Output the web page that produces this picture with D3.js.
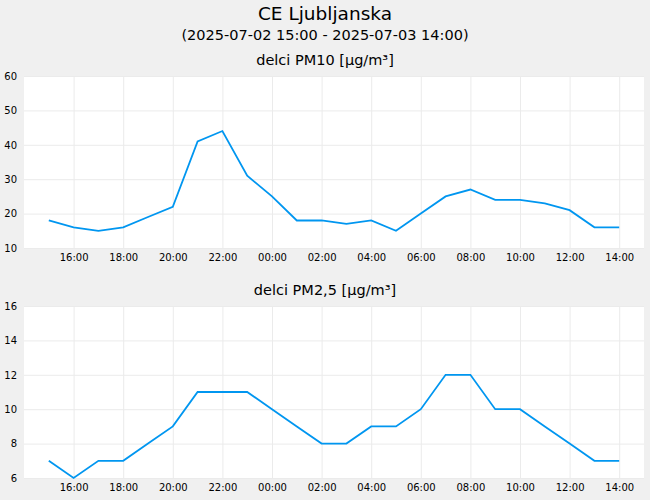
<!DOCTYPE html>
<html>
<head>
<meta charset="utf-8">
<script src="https://cdn.jsdelivr.net/npm/d3@7"></script>
<style>
  body { margin: 0; background: #f0f0f0; }
  svg { display: block; font-family: 'DejaVu Sans', sans-serif; }
</style>
</head>
<body>
<div id="chart"></div>
<script>
// hourly readings, 2025-07-02 15:00 .. 2025-07-03 14:00
const hours = ['15:00', '16:00', '17:00', '18:00', '19:00', '20:00', '21:00', '22:00', '23:00',
    '00:00', '01:00', '02:00', '03:00', '04:00', '05:00', '06:00', '07:00', '08:00',
    '09:00', '10:00', '11:00', '12:00', '13:00', '14:00'];
const pm10 = [18, 16, 15, 16, 19, 22, 41, 44, 31, 25, 18, 18, 17, 18, 15, 20, 25, 27, 24, 24, 23, 21, 16, 16];
const pm25 = [7, 6, 7, 7, 8, 9, 11, 11, 11, 10, 9, 8, 8, 9, 9, 10, 12, 12, 10, 10, 9, 8, 7, 7];
const pm10Ticks = [10, 20, 30, 40, 50, 60];
const pm25Ticks = [6, 8, 10, 12, 14, 16];

const title = 'CE Ljubljanska';
const subtitle = '(2025-07-02 15:00 - 2025-07-03 14:00)';

let
    width = 650,
    height = 500,
    start = new Date(2025, 6, 2, 15),
    times = hours.map((h, i) => d3.timeHour.offset(start, i)),

    svg = d3
        .select('#chart')
        .append('svg')
        .attr('width', width)
        .attr('height', height);

svg.append('rect')
    .attr('width', width)
    .attr('height', height)
    .style('fill', '#f0f0f0');

svg.append('text')
    .attr('x', width / 2)
    .attr('y', 19.5)
    .attr('text-anchor', 'middle')
    .style('font-size', '18.5px')
    .text(title);

svg.append('text')
    .attr('x', width / 2)
    .attr('y', 39.5)
    .attr('text-anchor', 'middle')
    .style('font-size', '14.5px')
    .text(subtitle);

let x = d3.scaleTime()
    .domain([d3.timeHour.offset(start, -1), d3.timeHour.offset(start, 24)])
    .range([24, 644]);

let xTicks = d3.timeHour.every(2).range(d3.timeHour.offset(start, 1), d3.timeHour.offset(start, 24));

function panel(label, values, ticks, top) {

    let
        bottom = top + 172,
        y = d3.scaleLinear()
            .domain([ticks[0], ticks[ticks.length - 1]])
            .range([bottom, top]),
        g = svg.append('g');

    g.append('text')
        .attr('x', width / 2)
        .attr('y', top - 11.5)
        .attr('text-anchor', 'middle')
        .style('font-size', '14.5px')
        .text(label);

    g.append('rect')
        .attr('x', x.range()[0])
        .attr('y', top)
        .attr('width', x.range()[1] - x.range()[0])
        .attr('height', bottom - top)
        .style('fill', '#fff');

    // grid
    g.append('g')
        .attr('transform', `translate(0,${bottom})`)
        .call(d3.axisBottom(x)
            .tickValues(xTicks)
            .tickSize(-(bottom - top))
            .tickFormat(d3.timeFormat('%H:%M')))
        .call(a => a.select('.domain').remove())
        .call(a => a.selectAll('line').style('stroke', '#ebebeb'))
        .call(a => a.selectAll('text')
            .attr('y', 10)
            .attr('dy', '0.32em')
            .style('font-size', '10px')
            .style('font-family', "'DejaVu Sans', sans-serif")
            .style('fill', '#000'));

    g.append('g')
        .attr('transform', `translate(${x.range()[0]},0)`)
        .call(d3.axisLeft(y)
            .tickValues(ticks)
            .tickSize(-(x.range()[1] - x.range()[0]))
            .tickPadding(7))
        .call(a => a.select('.domain').remove())
        .call(a => a.selectAll('line').style('stroke', '#ebebeb'))
        .call(a => a.selectAll('text')
            .style('font-size', '10px')
            .style('font-family', "'DejaVu Sans', sans-serif")
            .style('fill', '#000'));

    g.append('path')
        .datum(values)
        .attr('d', d3.line()
            .x((d, i) => x(times[i]))
            .y(d => y(d)))
        .style('fill', 'none')
        .style('stroke', '#0096f0')
        .style('stroke-width', 1.8);
}

panel('delci PM10 [µg/m³]', pm10, pm10Ticks, 76);
panel('delci PM2,5 [µg/m³]', pm25, pm25Ticks, 306);
</script>
</body>
</html>
